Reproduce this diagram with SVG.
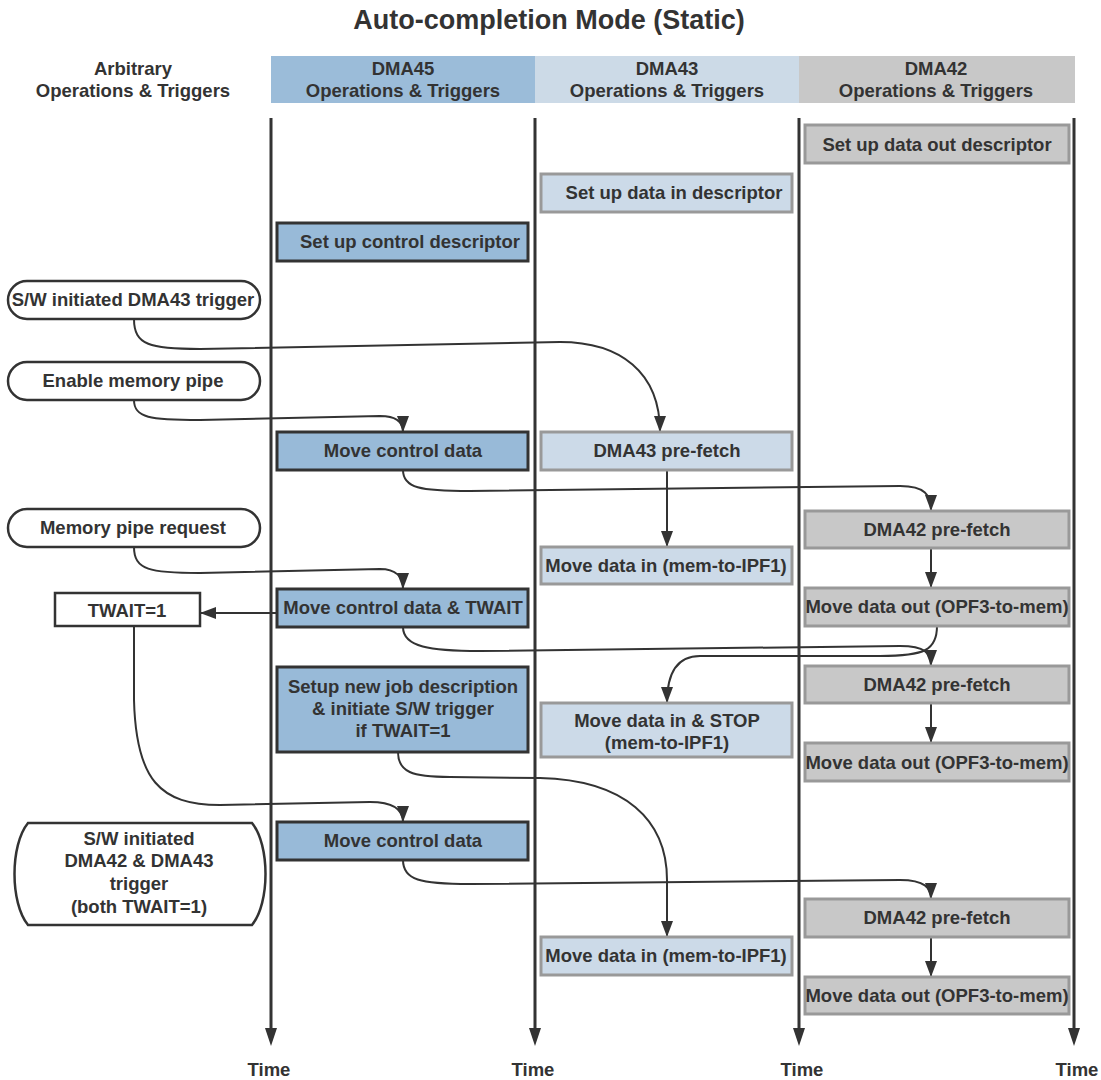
<svg xmlns="http://www.w3.org/2000/svg" width="1101" height="1080" viewBox="0 0 1101 1080">
<style>
text{font-family:"Liberation Sans",Arial,sans-serif;font-weight:bold;fill:#333;text-anchor:middle;dominant-baseline:central;font-size:18.5px}
.title{font-size:27px}
.b45{fill:#98bad8;stroke:#333;stroke-width:3}
.b43{fill:#ccdae8;stroke:#999;stroke-width:3}
.b42{fill:#c8c8c8;stroke:#999;stroke-width:3}
.pill{fill:#fff;stroke:#333;stroke-width:2.5}
.tl{stroke:#333;stroke-width:3;fill:none}
.c{stroke:#333;stroke-width:2;fill:none;marker-end:url(#ah)}
</style>
<defs>
<marker id="ah" markerUnits="userSpaceOnUse" markerWidth="16" markerHeight="12" refX="16" refY="6" orient="auto" viewBox="0 0 16 12">
<path d="M0,0 L16,6 L0,12 z" fill="#333"/>
</marker>
</defs>
<rect width="1101" height="1080" fill="#fff"/>
<text class="title" x="549" y="20">Auto-completion Mode (Static)</text>

<g id="headers">
<text x="133" y="68">Arbitrary</text>
<text x="133" y="90">Operations &amp; Triggers</text>
<rect x="271" y="56" width="264" height="47" fill="#9bbcd9"/>
<text x="403" y="68">DMA45</text>
<text x="403" y="90">Operations &amp; Triggers</text>
<rect x="535" y="56" width="264" height="47" fill="#ccdae7"/>
<text x="667" y="68">DMA43</text>
<text x="667" y="90">Operations &amp; Triggers</text>
<rect x="799" y="56" width="276" height="47" fill="#c8c8c8"/>
<text x="936" y="68">DMA42</text>
<text x="936" y="90">Operations &amp; Triggers</text>
</g>

<g id="timelines">
<path class="tl" d="M271,118 V1030 M535,118 V1030 M799,118 V1030 M1074,118 V1030"/>
<path d="M265,1028 L277,1028 L271,1046 z M529,1028 L541,1028 L535,1046 z M793,1028 L805,1028 L799,1046 z M1068,1028 L1080,1028 L1074,1046 z" fill="#333"/>
<text x="269" y="1069">Time</text>
<text x="533" y="1069">Time</text>
<text x="802" y="1069">Time</text>
<text x="1077" y="1069">Time</text>
</g>

<g id="connectors">
<path class="c" d="M134,319 C134,345 150,349 200,349 L560,342 C620,342 660,372 660,432"/>
<path class="c" d="M134,400 C134,418 150,420 200,420 L380,416 C396,416 403,422 403,432"/>
<path class="c" d="M403,470 C403,488 420,491 470,491 L900,486 C925,486 931,495 931,511"/>
<path class="c" d="M667,470 L667,547"/>
<path class="c" d="M931,548 L931,588"/>
<path class="c" d="M134,547 C134,570 150,573 200,573 L380,569 C396,569 403,577 403,589"/>
<path class="c" d="M277,613 L200,613"/>
<path class="c" d="M403,627 C403,647 430,651 480,651 L900,646 C925,646 931,653 931,666"/>
<path class="c" d="M937,626 C937,650 925,656 880,656 L700,656 C676,656 667,675 667,703"/>
<path class="c" d="M931,703 L931,743"/>
<path class="c" d="M134,626 L134,700 C136,780 160,805 220,805 L370,802 C395,802 403,810 403,822"/>
<path class="c" d="M398,752 C398,772 412,777 450,777 L540,778 C625,780 667,820 667,880 L667,937"/>
<path class="c" d="M403,860 C403,880 420,884 470,884 L900,880 C925,880 931,888 931,899"/>
<path class="c" d="M931,937 L931,977"/>
</g>

<g id="n-dma42-setup"><rect class="b42" x="805" y="125" width="264" height="38"/><text x="937" y="144">Set up data out descriptor</text></g>
<g id="n-dma43-setup"><rect class="b43" x="541" y="174" width="251" height="38"/><text x="674" y="192">Set up data in descriptor</text></g>
<g id="n-dma45-setup"><rect class="b45" x="277" y="223" width="251" height="38"/><text x="410" y="241">Set up control descriptor</text></g>

<g id="n-sw43"><rect class="pill" x="8" y="281" width="252" height="38" rx="19"/><text x="133" y="299">S/W initiated DMA43 trigger</text></g>
<g id="n-enable"><rect class="pill" x="8" y="362" width="252" height="38" rx="19"/><text x="133" y="380">Enable memory pipe</text></g>

<g id="n-mcd1"><rect class="b45" x="277" y="432" width="251" height="38"/><text x="403" y="450">Move control data</text></g>
<g id="n-dma43-pf"><rect class="b43" x="541" y="432" width="251" height="38"/><text x="667" y="450">DMA43 pre-fetch</text></g>

<g id="n-mpr"><rect class="pill" x="8" y="509" width="252" height="38" rx="19"/><text x="133" y="527">Memory pipe request</text></g>
<g id="n-dma42-pf1"><rect class="b42" x="805" y="511" width="264" height="37"/><text x="937" y="529">DMA42 pre-fetch</text></g>
<g id="n-mdi1"><rect class="b43" x="541" y="547" width="251" height="37"/><text x="666" y="565">Move data in (mem-to-IPF1)</text></g>

<g id="n-twait"><rect class="pill" x="55" y="593" width="145" height="33"/><text x="127" y="610">TWAIT=1</text></g>
<g id="n-mcdt"><rect class="b45" x="277" y="589" width="251" height="38"/><text x="403" y="607">Move control data &amp; TWAIT</text></g>
<g id="n-mdo1"><rect class="b42" x="805" y="588" width="264" height="38"/><text x="937" y="606">Move data out (OPF3-to-mem)</text></g>

<g id="n-setup-new"><rect class="b45" x="277" y="667" width="251" height="85"/><text x="403" y="686">Setup new job description</text><text x="403" y="708">&amp; initiate S/W trigger</text><text x="403" y="730">if TWAIT=1</text></g>
<g id="n-dma42-pf2"><rect class="b42" x="805" y="666" width="264" height="37"/><text x="937" y="684">DMA42 pre-fetch</text></g>
<g id="n-mdis"><rect class="b43" x="541" y="703" width="251" height="54"/><text x="667" y="720">Move data in &amp; STOP</text><text x="667" y="742">(mem-to-IPF1)</text></g>
<g id="n-mdo2"><rect class="b42" x="805" y="743" width="264" height="38"/><text x="937" y="762">Move data out (OPF3-to-mem)</text></g>

<g id="n-sw4243"><path class="pill" d="M28,823 L252,823 C270,845 270,903 252,925 L28,925 C10,903 10,845 28,823 Z"/><text x="139" y="838">S/W initiated</text><text x="139" y="860">DMA42 &amp; DMA43</text><text x="139" y="883">trigger</text><text x="139" y="906">(both TWAIT=1)</text></g>
<g id="n-mcd2"><rect class="b45" x="277" y="822" width="251" height="38"/><text x="403" y="840">Move control data</text></g>
<g id="n-dma42-pf3"><rect class="b42" x="805" y="899" width="264" height="38"/><text x="937" y="917">DMA42 pre-fetch</text></g>
<g id="n-mdi2"><rect class="b43" x="541" y="937" width="251" height="38"/><text x="666" y="955">Move data in (mem-to-IPF1)</text></g>
<g id="n-mdo3"><rect class="b42" x="805" y="977" width="264" height="37"/><text x="937" y="995">Move data out (OPF3-to-mem)</text></g>
</svg>
